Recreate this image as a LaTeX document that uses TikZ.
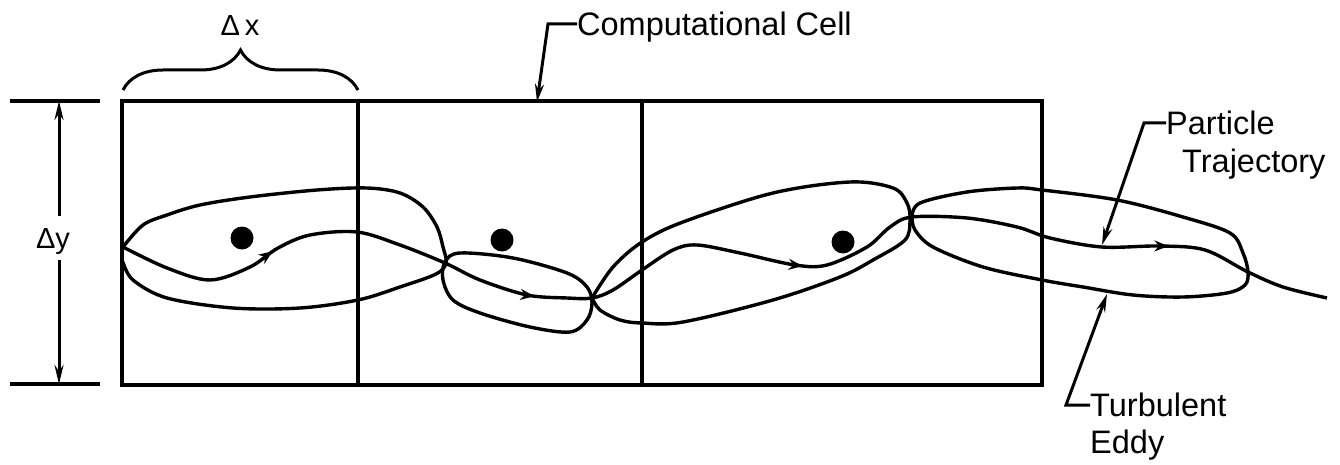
\documentclass[tikz,border=0pt]{standalone}
\usepackage{fontspec}
\setmainfont{Liberation Sans}
\usetikzlibrary{arrows.meta,decorations.markings,decorations.pathreplacing}
\tikzset{
  cellline/.style={line width=3.4pt, line cap=rect},
  eddy/.style={line width=3.4pt, line join=round},
  traj/.style={line width=3.4pt, postaction=decorate,
    decoration={markings,
      mark=at position 0.128 with {\arrow{Stealth[length=14pt,width=11pt]}},
      mark=at position 0.345 with {\arrow{Stealth[length=14pt,width=11pt]}},
      mark=at position 0.568 with {\arrow{Stealth[length=14pt,width=11pt]}},
      mark=at position 0.868 with {\arrow{Stealth[length=14pt,width=11pt]}}}},
  lbl/.style={font=\fontsize{32.5}{38}\selectfont, inner sep=0pt,
    text height=23pt, text depth=0pt},
  dimlbl/.style={font=\fontsize{29}{34}\selectfont, inner sep=0pt,
    text height=21pt, text depth=0pt},
  leader/.style={-{Stealth[length=18pt,width=9pt]}, line width=3pt},
  dimarr/.style={-{Stealth[length=19pt,width=9pt]}, line width=3pt},
  parcl/.style={circle, fill=black, minimum size=23pt, inner sep=0pt}
}
\begin{document}
\begin{tikzpicture}[x=1pt, y=-1pt]
  \useasboundingbox (0,0) rectangle (1340,465);
  \draw[cellline] (122,101) rectangle (1042,385);
  \draw[cellline] (358,101) -- (358,385);
  \draw[cellline] (642,101) -- (642,385);

  \draw[cellline] (12,101) -- (98,101);
  \draw[cellline] (12,384) -- (98,384);
  \coordinate (dyA) at (59,101);
  \coordinate (dyB) at (59,384);
  \node[dimlbl, inner ysep=11pt] (dy) at (53,238) {Δy};
  \draw[dimarr] (dy.north -| dyA) -- (dyA);
  \draw[dimarr] (dy.south -| dyB) -- (dyB);

  \coordinate (bxL) at (123,90);
  \coordinate (bxR) at (358,90);
  \draw[line width=3pt, decorate, decoration={brace, amplitude=40pt}] (bxL) -- (bxR);
  \node[dimlbl] (dx) at (240,25) {Δ\,x};

  \node[parcl] (p1) at (242,238) {};
  \node[parcl] (p2) at (502,240) {};
  \node[parcl] (p3) at (843,242) {};

  \draw[eddy] plot[smooth, tension=0.55] coordinates {(123,247) (143,225) (167,215) (200,205)
    (250,197) (317,190) (367,188) (400,193) (423,207) (437,227) (443,247) (446,263)
    (436,274) (400,287) (358,300) (300,308) (233,308) (167,298) (133,280) (123,262)};
  \draw[eddy] plot[smooth cycle, tension=0.55] coordinates {(445,262) (460,253) (513,258)
    (567,273) (587,287) (592,303) (587,320) (570,332) (530,327) (480,313) (453,300) (443,280)};
  \draw[eddy] plot[smooth, tension=0.55] coordinates {(592,298) (613,267) (642,242) (683,222)
    (773,193) (850,182) (893,188) (907,203) (910,220) (905,240) (873,260) (840,277)
    (773,300) (683,322) (642,323) (620,320) (600,310) (592,298)};
  \draw[eddy] plot[smooth, tension=0.55] coordinates {(912,217) (920,203) (967,192) (1017,188)
    (1042,190) (1117,200) (1183,217) (1230,233) (1243,253) (1248,272) (1245,285)
    (1227,293) (1183,297) (1133,295) (1083,287) (1042,280) (983,267) (933,247) (915,230) (912,217)};

  \draw[traj] plot[smooth, tension=0.55] coordinates {(123,247) (167,268) (210,280) (250,267)
    (278,248) (310,235) (357,232) (400,245) (445,263) (480,280) (527,295) (567,298)
    (592,298) (613,290) (642,270) (673,250) (697,245) (740,253) (795,265) (827,265)
    (867,247) (890,227) (912,217) (967,218) (1017,227) (1050,238) (1102,247) (1160,246)
    (1205,250) (1248,272) (1283,287) (1327,298)};

  \node[lbl, anchor=west] (cc) at (577,24) {Computational Cell};
  \coordinate (ccT) at (537,102);
  \draw[leader] (cc.west) -- ++(-29,0) -- (ccT);

  \node[lbl, anchor=west] (pt) at (1166,123) {Particle};
  \node[lbl, anchor=west] (pt2) at ([shift={(16,38)}]pt.west) {Trajectory};
  \coordinate (ptT) at (1102,245);
  \draw[leader] (pt.west) -- ++(-22,0) -- (ptT);

  \node[lbl, anchor=west] (te) at (1090,405) {Turbulent};
  \node[lbl, anchor=west] (te2) at ([shift={(0,37)}]te.west) {Eddy};
  \coordinate (teT) at (1107,294);
  \draw[leader] (te.west) -- ++(-24,0) -- (teT);
\end{tikzpicture}
\end{document}
